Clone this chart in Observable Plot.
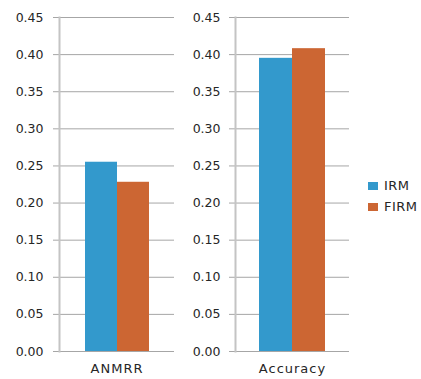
<!DOCTYPE html>
<html><head><meta charset="utf-8">
<script src="https://cdn.jsdelivr.net/npm/d3@7"></script>
<script src="https://cdn.jsdelivr.net/npm/@observablehq/plot@0.6"></script>
<style>
body{margin:0;background:#fff;font-family:"DejaVu Sans",sans-serif;}
#wrap{position:relative;width:421px;height:379px;overflow:hidden;}
.panel{position:absolute;top:0;}
.legend{position:absolute;left:368px;top:175px;font-size:13px;letter-spacing:0.5px;color:#262626;line-height:21px;}
.legend div{display:flex;align-items:center;}
.legend span.sw{display:inline-block;width:10px;height:8px;margin-right:6px;}
</style></head><body>
<div id="wrap"></div>
<script>
const series = ["IRM", "FIRM"];
const colors = ["#3399cc", "#cc6633"];
const metrics = ["ANMRR", "Accuracy"];
const anmrrValues = [0.255, 0.228];
const accuracyValues = [0.395, 0.408];
const yTicks = [0, 0.05, 0.10, 0.15, 0.20, 0.25, 0.30, 0.35, 0.40, 0.45];

const wrap = document.getElementById("wrap");

function panel(metric, values, left, width, marginLeft, tickPadding, paddingOuter) {
  const data = series.map((s, i) => ({series: s, value: values[i]}));
  const svg = Plot.plot({
    width,
    height: 379,
    marginTop: 17,
    marginBottom: 28,
    marginLeft,
    marginRight: 6,
    style: {fontSize: "12.5px", fontFamily: "DejaVu Sans", color: "#262626", background: "transparent"},
    x: {domain: series, paddingInner: 0, paddingOuter, axis: null},
    y: {domain: [0, 0.45], ticks: yTicks},
    color: {domain: series, range: colors},
    marks: [
      Plot.ruleY(yTicks, {stroke: "#a6a6a6", strokeWidth: 1, insetLeft: -6}),
      Plot.frame({anchor: "left", stroke: "#c4c4c4", strokeWidth: 2}),
      Plot.barY(data, {x: "series", y: "value", fill: "series"}),
      Plot.axisY({ticks: yTicks, tickSize: 0, tickPadding, tickFormat: d3.format(".2f"), label: null}),
      Plot.text([metric], {frameAnchor: "bottom", dy: 21, text: d => d, fill: "#262626", fontSize: 13, style: "letter-spacing:1px"})
    ]
  });
  svg.classList.add("panel");
  svg.style.left = left + "px";
  svg.querySelectorAll("text").forEach(t => {
    if (t.textContent === metric) t.setAttribute("letter-spacing", "1");
  });
  wrap.appendChild(svg);
}

panel(metrics[0], anmrrValues, 0, 180, 59, 16, 0.77);
panel(metrics[1], accuracyValues, 180, 175, 55, 15, 0.7);

const leg = document.createElement("div");
leg.className = "legend";
series.forEach((s, i) => {
  const row = document.createElement("div");
  const sw = document.createElement("span");
  sw.className = "sw";
  sw.style.background = colors[i];
  row.appendChild(sw);
  row.appendChild(document.createTextNode(s));
  leg.appendChild(row);
});
wrap.appendChild(leg);
</script>
</body></html>
